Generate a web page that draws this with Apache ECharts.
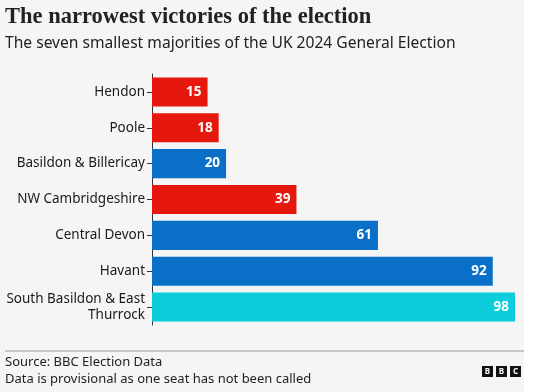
<!DOCTYPE html>
<html><head><meta charset="utf-8">
<script src="https://cdn.jsdelivr.net/npm/echarts@6/dist/echarts.min.js"></script>
<style>html,body{margin:0;padding:0;background:#fff;}#c{width:540px;height:392px;}</style>
</head><body><div id="c"></div>
<script>
const categories = ["Hendon", "Poole", "Basildon & Billericay", "NW Cambridgeshire", "Central Devon", "Havant", "South Basildon & East Thurrock"];
const majorities = [15, 18, 20, 39, 61, 92, 98];
const parties = ["Labour", "Labour", "Conservative", "Labour", "Conservative", "Conservative", "Reform UK"];
const partyColors = { "Labour": "#e6180d", "Conservative": "#0a6fc6", "Reform UK": "#0dccdc" };

const chart = echarts.init(document.getElementById('c'), null, { renderer: 'canvas' });
const sans = '"Noto Sans", "Open Sans", sans-serif';
chart.setOption({
  animation: false,
  graphic: [
    { type: 'rect', z: -10, silent: true, shape: { x: 0, y: 0, width: 524, height: 392 }, style: { fill: '#f5f5f5' } },
    { type: 'line', shape: { x1: 5, y1: 351, x2: 524, y2: 351 }, style: { stroke: '#999', lineWidth: 1 } },
    { type: 'text', left: 5, top: 6, style: { text: 'The narrowest victories of the election', font: 'bold 22.5px "Liberation Serif", serif', fill: '#222' } },
    { type: 'text', left: 5, top: 36, style: { text: 'The seven smallest majorities of the UK 2024 General Election', font: '15.6px ' + sans, fill: '#222' } },
    { type: 'text', left: 5, top: 356, style: { text: 'Source: BBC Election Data', font: '13px ' + sans, fill: '#222' } },
    { type: 'text', left: 5, top: 373, style: { text: 'Data is provisional as one seat has not been called', font: '13px ' + sans, fill: '#222' } },
    { type: 'group', left: 482, top: 366, children: [
      { type: 'rect', shape: { x: 0, y: 0, width: 11, height: 11 }, style: { fill: '#111' } },
      { type: 'text', style: { x: 5.5, y: 6, text: 'B', align: 'center', verticalAlign: 'middle', font: 'bold 8px ' + sans, fill: '#fff' } },
      { type: 'rect', shape: { x: 14, y: 0, width: 11, height: 11 }, style: { fill: '#111' } },
      { type: 'text', style: { x: 19.5, y: 6, text: 'B', align: 'center', verticalAlign: 'middle', font: 'bold 8px ' + sans, fill: '#fff' } },
      { type: 'rect', shape: { x: 28, y: 0, width: 11, height: 11 }, style: { fill: '#111' } },
      { type: 'text', style: { x: 33.5, y: 6, text: 'C', align: 'center', verticalAlign: 'middle', font: 'bold 8px ' + sans, fill: '#fff' } }
    ]}
  ],
  grid: { left: 152, right: 25, top: 74, bottom: 67, containLabel: false },
  xAxis: { type: 'value', min: 0, max: 98, show: false },
  yAxis: {
    type: 'category', data: categories, inverse: true,
    axisLine: { show: true, lineStyle: { color: '#333', width: 1 } },
    axisTick: { show: true, length: 5, alignWithLabel: true, lineStyle: { color: '#333' } },
    axisLabel: {
      margin: 7, color: '#1a1a1a', fontFamily: sans, fontSize: 13.5, lineHeight: 16, align: 'right',
      formatter: v => v.replace(' East ', ' East\n')
    }
  },
  series: [{
    type: 'bar', barCategoryGap: '19%',
    data: majorities.map((v, i) => ({ value: v, itemStyle: { color: partyColors[parties[i]] } })),
    label: { show: true, position: 'insideRight', distance: 6, color: '#fff', fontFamily: sans, fontWeight: 'bold', fontSize: 13.5 }
  }]
});
</script></body></html>
